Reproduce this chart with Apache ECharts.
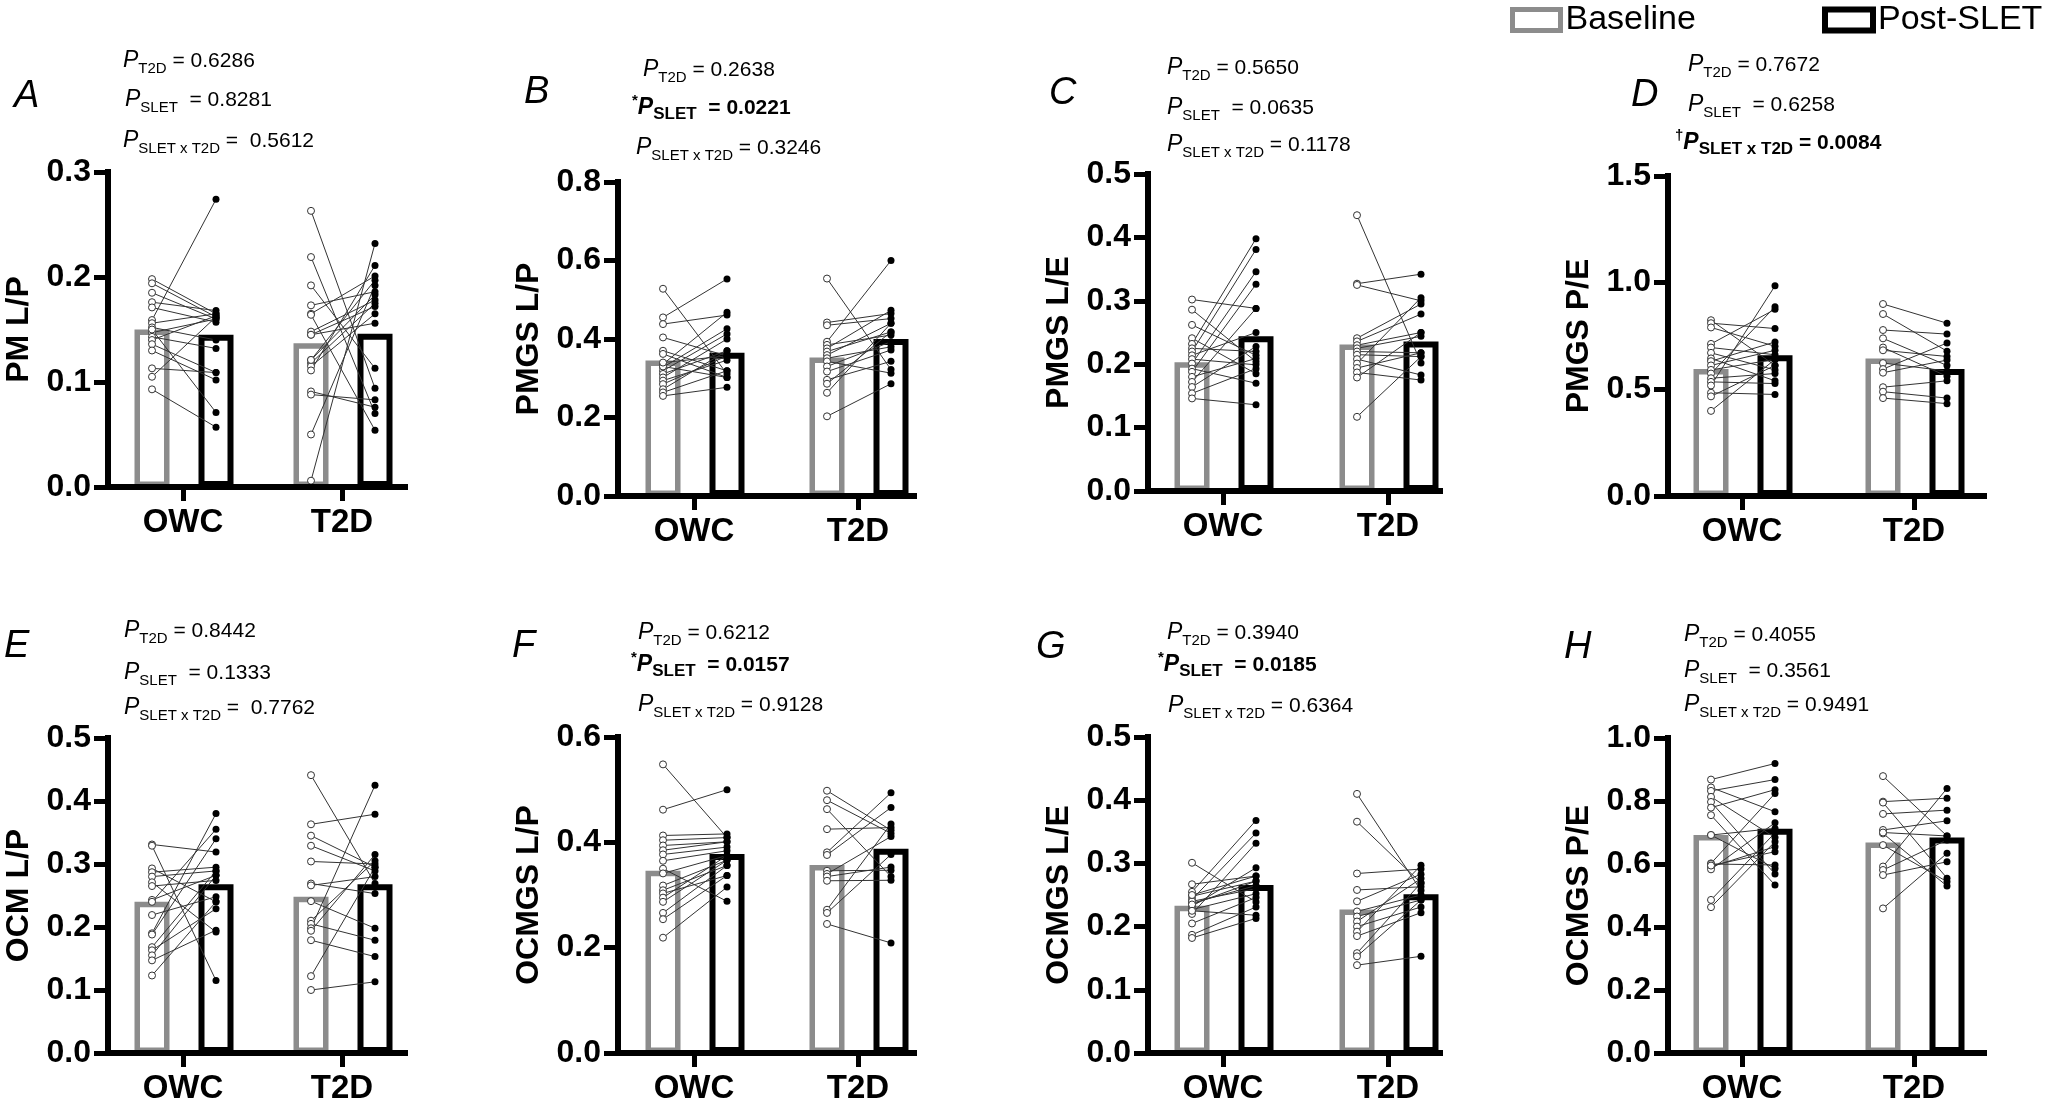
<!DOCTYPE html>
<html><head><meta charset="utf-8">
<script src="https://cdn.jsdelivr.net/npm/echarts@6/dist/echarts.min.js"></script>
<style>html,body{margin:0;padding:0;background:#fff}#chart{width:2047px;height:1105px}</style>
</head><body><div id="chart"></div>
<script>
// ---------------- DATA ----------------
const categories = ['OWC', 'T2D'];
const seriesNames = ['Baseline', 'Post-SLET'];
const panelLetters = ['A', 'B', 'C', 'D', 'E', 'F', 'G', 'H'];
const yAxisNames = ['PM L/P', 'PMGS L/P', 'PMGS L/E', 'PMGS P/E', 'OCM L/P', 'OCMGS L/P', 'OCMGS L/E', 'OCMGS P/E'];
const yAxisMax = [0.3, 0.8, 0.5, 1.5, 0.5, 0.6, 0.5, 1.0];
const yAxisStep = [0.1, 0.2, 0.1, 0.5, 0.1, 0.2, 0.1, 0.2];

const pT2D = ['0.6286', '0.2638', '0.5650', '0.7672', '0.8442', '0.6212', '0.3940', '0.4055'];
const pSLET = ['0.8281', '0.0221', '0.0635', '0.6258', '0.1333', '0.0157', '0.0185', '0.3561'];
const pInteraction = ['0.5612', '0.3246', '0.1178', '0.0084', '0.7762', '0.9128', '0.6364', '0.9491'];
const sigSLET = [false, true, false, false, false, true, true, false];
const sigInteraction = [false, false, false, true, false, false, false, false];

// bar means [OWC, T2D]
const meanBaseline_A = [0.150, 0.137], meanPost_A = [0.145, 0.146];
const meanBaseline_B = [0.345, 0.353], meanPost_B = [0.365, 0.400];
const meanBaseline_C = [0.203, 0.231], meanPost_C = [0.244, 0.236];
const meanBaseline_D = [0.595, 0.645], meanPost_D = [0.660, 0.595];
const meanBaseline_E = [0.240, 0.248], meanPost_E = [0.268, 0.268];
const meanBaseline_F = [0.346, 0.357], meanPost_F = [0.378, 0.388];
const meanBaseline_G = [0.233, 0.227], meanPost_G = [0.266, 0.251];
const meanBaseline_H = [0.692, 0.668], meanPost_H = [0.712, 0.684];

// individual paired values (baseline[i] -> post[i])
const A_OWC_base = [0.198,0.194,0.185,0.176,0.171,0.159,0.156,0.152,0.147,0.143,0.140,0.136,0.130,0.113,0.105,0.093,0.150];
const A_OWC_post = [0.165,0.162,0.160,0.168,0.157,0.274,0.165,0.140,0.160,0.132,0.163,0.109,0.102,0.109,0.162,0.057,0.071];
const A_T2D_base = [0.263,0.219,0.192,0.173,0.165,0.164,0.148,0.145,0.121,0.118,0.115,0.111,0.091,0.088,0.050,0.006,0.121,0.145];
const A_T2D_post = [0.094,0.070,0.113,0.186,0.201,0.054,0.178,0.156,0.197,0.175,0.165,0.211,0.076,0.083,0.192,0.232,0.183,0.172];

const B_OWC_base = [0.528,0.455,0.438,0.404,0.370,0.362,0.336,0.328,0.319,0.311,0.302,0.294,0.285,0.272,0.264,0.255,0.330,0.340];
const B_OWC_post = [0.311,0.553,0.461,0.357,0.319,0.302,0.468,0.426,0.413,0.370,0.400,0.346,0.357,0.370,0.319,0.277,0.302,0.357];
const B_T2D_base = [0.554,0.442,0.435,0.393,0.385,0.376,0.368,0.359,0.351,0.343,0.330,0.317,0.296,0.286,0.263,0.203];
const B_T2D_post = [0.322,0.465,0.452,0.600,0.410,0.473,0.418,0.440,0.380,0.313,0.393,0.372,0.343,0.418,0.440,0.286];

const C_OWC_base = [0.302,0.286,0.262,0.241,0.232,0.225,0.220,0.214,0.208,0.201,0.193,0.188,0.180,0.172,0.164,0.154,0.146];
const C_OWC_post = [0.288,0.204,0.214,0.185,0.398,0.220,0.381,0.250,0.199,0.346,0.170,0.326,0.209,0.288,0.228,0.193,0.136];
const C_T2D_base = [0.435,0.327,0.325,0.241,0.236,0.230,0.225,0.220,0.215,0.208,0.201,0.194,0.187,0.179,0.117];
const C_T2D_post = [0.202,0.342,0.300,0.295,0.279,0.250,0.244,0.218,0.212,0.183,0.305,0.218,0.175,0.250,0.212];

const D_OWC_base = [0.824,0.810,0.790,0.713,0.696,0.671,0.645,0.632,0.612,0.591,0.574,0.552,0.535,0.518,0.484,0.467,0.399];
const D_OWC_post = [0.612,0.785,0.702,0.875,0.662,0.591,0.540,0.722,0.683,0.640,0.887,0.574,0.527,0.985,0.476,0.612,0.640];
const D_T2D_base = [0.900,0.853,0.778,0.739,0.696,0.683,0.623,0.595,0.578,0.510,0.489,0.459];
const D_T2D_post = [0.810,0.679,0.759,0.612,0.561,0.654,0.586,0.717,0.637,0.540,0.459,0.433];

const E_OWC_base = [0.331,0.329,0.293,0.287,0.280,0.271,0.265,0.243,0.240,0.219,0.190,0.188,0.168,0.163,0.155,0.147,0.123];
const E_OWC_post = [0.319,0.115,0.240,0.295,0.289,0.192,0.274,0.282,0.355,0.248,0.380,0.340,0.289,0.229,0.282,0.195,0.240];
const E_T2D_base = [0.441,0.363,0.345,0.329,0.304,0.269,0.266,0.241,0.210,0.205,0.198,0.194,0.179,0.122,0.100];
const E_T2D_post = [0.269,0.379,0.295,0.289,0.300,0.253,0.280,0.198,0.305,0.179,0.425,0.315,0.153,0.295,0.113];

const F_OWC_base = [0.548,0.462,0.413,0.404,0.394,0.385,0.377,0.365,0.350,0.341,0.318,0.309,0.303,0.295,0.287,0.266,0.254,0.219];
const F_OWC_post = [0.409,0.500,0.416,0.409,0.401,0.401,0.391,0.384,0.288,0.375,0.366,0.356,0.337,0.375,0.366,0.356,0.337,0.315];
const F_T2D_base = [0.498,0.480,0.463,0.425,0.381,0.376,0.346,0.340,0.335,0.327,0.272,0.266,0.245];
const F_T2D_post = [0.423,0.417,0.335,0.428,0.494,0.466,0.347,0.411,0.353,0.328,0.435,0.377,0.209];

const G_OWC_base = [0.301,0.267,0.255,0.248,0.243,0.237,0.232,0.227,0.220,0.205,0.187,0.182,0.240,0.235,0.225,0.250];
const G_OWC_post = [0.239,0.280,0.368,0.272,0.348,0.265,0.293,0.252,0.332,0.246,0.231,0.213,0.260,0.272,0.218,0.280];
const G_T2D_base = [0.410,0.366,0.284,0.258,0.240,0.224,0.216,0.208,0.200,0.192,0.185,0.158,0.153,0.139];
const G_T2D_post = [0.257,0.269,0.291,0.263,0.283,0.250,0.242,0.276,0.231,0.297,0.222,0.269,0.242,0.153];

const H_OWC_base = [0.868,0.843,0.832,0.813,0.797,0.779,0.755,0.692,0.692,0.602,0.591,0.583,0.600,0.595,0.486,0.463];
const H_OWC_post = [0.919,0.766,0.868,0.684,0.568,0.836,0.533,0.586,0.713,0.824,0.655,0.731,0.597,0.639,0.699,0.671];
const H_T2D_base = [0.879,0.798,0.795,0.759,0.708,0.697,0.660,0.592,0.581,0.565,0.459,0.700];
const H_T2D_post = [0.689,0.809,0.555,0.771,0.737,0.530,0.544,0.840,0.676,0.607,0.634,0.689];

const panels = [
  {base: [A_OWC_base, A_T2D_base], post: [A_OWC_post, A_T2D_post], meanBase: meanBaseline_A, meanPost: meanPost_A},
  {base: [B_OWC_base, B_T2D_base], post: [B_OWC_post, B_T2D_post], meanBase: meanBaseline_B, meanPost: meanPost_B},
  {base: [C_OWC_base, C_T2D_base], post: [C_OWC_post, C_T2D_post], meanBase: meanBaseline_C, meanPost: meanPost_C},
  {base: [D_OWC_base, D_T2D_base], post: [D_OWC_post, D_T2D_post], meanBase: meanBaseline_D, meanPost: meanPost_D},
  {base: [E_OWC_base, E_T2D_base], post: [E_OWC_post, E_T2D_post], meanBase: meanBaseline_E, meanPost: meanPost_E},
  {base: [F_OWC_base, F_T2D_base], post: [F_OWC_post, F_T2D_post], meanBase: meanBaseline_F, meanPost: meanPost_F},
  {base: [G_OWC_base, G_T2D_base], post: [G_OWC_post, G_T2D_post], meanBase: meanBaseline_G, meanPost: meanPost_G},
  {base: [H_OWC_base, H_T2D_base], post: [H_OWC_post, H_T2D_post], meanBase: meanBaseline_H, meanPost: meanPost_H}
];

// ---------------- LAYOUT (pixels) ----------------
const COLS = [
  {x0: 108, owc: 75, unit: 159, width: 297},
  {x0: 618, owc: 76, unit: 164, width: 296},
  {x0: 1148, owc: 75, unit: 165, width: 292},
  {x0: 1668, owc: 74, unit: 172, width: 316}
];
const ROWS = [
  [{top: 172, bottom: 487}, {top: 182, bottom: 496}, {top: 174, bottom: 491}, {top: 176, bottom: 496}],
  [{top: 738, bottom: 1053}, {top: 737, bottom: 1053}, {top: 737, bottom: 1053}, {top: 738, bottom: 1053}]
];
const LETTER_POS = [[14, 96], [524, 92], [1049, 93], [1631, 95], [4, 646], [512, 646], [1036, 647], [1564, 647]];
const PTEXT_POS = [
  [[123, 68], [125, 107], [123, 148]],
  [[643, 77], [632, 115], [636, 155]],
  [[1167, 75], [1167, 115], [1167, 152]],
  [[1688, 72], [1688, 112], [1675, 150]],
  [[124, 638], [124, 680], [124, 715]],
  [[638, 640], [631, 672], [638, 712]],
  [[1167, 640], [1158, 672], [1168, 713]],
  [[1684, 642], [1684, 678], [1684, 712]]
];
const INTER_GAP = [2, 1, 1, 1, 2, 1, 1, 1]; // spaces after '=' on interaction line
const BASE_OFF = -31, POST_OFF = 33; // px offsets of bars from category tick
const FONT = 'Liberation Sans, Arial, Helvetica, sans-serif';
const GRAY = '#8c8c8c';

const RICH = {
  p: {fontSize: 23, fontStyle: 'italic', lineHeight: 30, fontFamily: FONT},
  s: {fontSize: 15, lineHeight: 15, verticalAlign: 'bottom', fontFamily: FONT},
  v: {fontSize: 21, lineHeight: 30, fontFamily: FONT},
  pB: {fontSize: 23, fontStyle: 'italic', fontWeight: 'bold', lineHeight: 30, fontFamily: FONT},
  sB: {fontSize: 17, fontWeight: 'bold', lineHeight: 16, verticalAlign: 'bottom', fontFamily: FONT},
  vB: {fontSize: 21, fontWeight: 'bold', lineHeight: 30, fontFamily: FONT},
  supB: {fontSize: 15, fontWeight: 'bold', lineHeight: 15, verticalAlign: 'top', fontFamily: FONT}
};

// ---------------- BUILD ----------------
const grids = [], xAxes = [], yAxes = [], series = [], graphics = [];

panels.forEach((p, i) => {
  const col = COLS[i % 4];
  const row = ROWS[Math.floor(i / 4)][i % 4];
  grids.push({left: col.x0, top: row.top, width: col.width, height: row.bottom - row.top});
  const xMin = 1 - col.owc / col.unit;
  const xMax = xMin + col.width / col.unit;
  const bx = (k, off) => (k + 1) + off / col.unit;

  xAxes.push({
    gridIndex: i, type: 'value', min: xMin, max: xMax, z: 4,
    axisLine: {show: true, onZero: false, lineStyle: {color: '#000', width: 6, cap: 'square'}},
    axisTick: {show: true, customValues: [1, 2], length: 14, lineStyle: {color: '#000', width: 5}},
    axisLabel: {customValues: [1, 2], formatter: v => categories[Math.round(v) - 1],
      fontSize: 33, fontWeight: 'bold', color: '#000', margin: 19, fontFamily: FONT},
    splitLine: {show: false}
  });
  yAxes.push({
    gridIndex: i, type: 'value', min: 0, max: yAxisMax[i], interval: yAxisStep[i], z: 4,
    name: yAxisNames[i], nameLocation: 'middle', nameGap: 73,
    nameTextStyle: {fontSize: 32, fontWeight: 'bold', color: '#000', fontFamily: FONT},
    axisLine: {show: true, onZero: false, lineStyle: {color: '#000', width: 6, cap: 'square'}},
    axisTick: {show: true, length: 14, lineStyle: {color: '#000', width: 5}},
    axisLabel: {formatter: v => v.toFixed(1), fontSize: 32, fontWeight: 'bold', color: '#000', margin: 17, fontFamily: FONT},
    splitLine: {show: false}
  });

  series.push({
    type: 'bar', name: seriesNames[0], xAxisIndex: i, yAxisIndex: i, barWidth: 35, barGap: '-100%', z: 1, silent: true,
    itemStyle: {color: 'rgba(255,255,255,0)', borderColor: GRAY, borderWidth: 5.5},
    data: p.meanBase.map((v, k) => [bx(k, BASE_OFF), v])
  });
  series.push({
    type: 'bar', name: seriesNames[1], xAxisIndex: i, yAxisIndex: i, barWidth: 35, barGap: '-100%', z: 1, silent: true,
    itemStyle: {color: 'rgba(255,255,255,0)', borderColor: '#000', borderWidth: 6},
    data: p.meanPost.map((v, k) => [bx(k, POST_OFF), v])
  });
  const segs = [], bPts = [], qPts = [];
  p.base.forEach((arr, k) => {
    arr.forEach((b, j) => {
      const q = p.post[k][j];
      segs.push({coords: [[bx(k, BASE_OFF), b], [bx(k, POST_OFF), q]]});
      bPts.push([bx(k, BASE_OFF), b]);
      qPts.push([bx(k, POST_OFF), q]);
    });
  });
  series.push({
    type: 'lines', coordinateSystem: 'cartesian2d', xAxisIndex: i, yAxisIndex: i, z: 2, silent: true,
    lineStyle: {color: '#333', width: 1, opacity: 1}, data: segs
  });
  series.push({
    type: 'scatter', xAxisIndex: i, yAxisIndex: i, z: 3, silent: true, symbol: 'circle', symbolSize: 7,
    itemStyle: {color: '#fff', borderColor: '#333', borderWidth: 1, opacity: 1}, data: bPts
  });
  series.push({
    type: 'scatter', xAxisIndex: i, yAxisIndex: i, z: 3, silent: true, symbol: 'circle', symbolSize: 7,
    itemStyle: {color: '#000', opacity: 1}, data: qPts
  });

  // panel letter
  graphics.push({type: 'text', x: LETTER_POS[i][0], y: LETTER_POS[i][1], silent: true,
    style: {text: panelLetters[i], fontSize: 38, fontStyle: 'italic', fontFamily: FONT, fill: '#000', verticalAlign: 'middle'}});

  // p-value lines
  const lines = [
    {sub: 'T2D', val: ' = ' + pT2D[i], bold: false, mark: ''},
    {sub: 'SLET', val: '  = ' + pSLET[i], bold: sigSLET[i], mark: sigSLET[i] ? '*' : ''},
    {sub: 'SLET x T2D', val: ' =' + ' '.repeat(INTER_GAP[i]) + pInteraction[i], bold: sigInteraction[i], mark: sigInteraction[i] ? '†' : ''}
  ];
  lines.forEach((ln, r) => {
    const b = ln.bold ? 'B' : '';
    let txt = '';
    if (ln.mark) txt += '{supB|' + ln.mark + '}';
    txt += '{p' + b + '|P}{s' + b + '|' + ln.sub + '}{v' + b + '|' + ln.val + '}';
    const pos = PTEXT_POS[i][r];
    graphics.push({type: 'text', x: pos[0], y: pos[1] - 7, silent: true,
      style: {text: txt, fontFamily: FONT, fill: '#000', align: 'left', verticalAlign: 'middle', rich: RICH}});
  });
});

const chart = echarts.init(document.getElementById('chart'), null, {renderer: 'canvas'});
chart.setOption({
  animation: false,
  backgroundColor: '#fff',
  textStyle: {fontFamily: FONT},
  legend: [
    {left: 1510, top: 3, padding: 0, icon: 'rect', itemWidth: 48, itemHeight: 21, selectedMode: false,
      textStyle: {fontSize: 34, color: '#000', fontFamily: FONT},
      data: [{name: seriesNames[0], itemStyle: {color: '#fff', borderColor: GRAY, borderWidth: 5}}]},
    {left: 1822, top: 3, padding: 0, icon: 'rect', itemWidth: 48, itemHeight: 21, selectedMode: false,
      textStyle: {fontSize: 34, color: '#000', fontFamily: FONT},
      data: [{name: seriesNames[1], itemStyle: {color: '#fff', borderColor: '#000', borderWidth: 6}}]}
  ],
  grid: grids,
  xAxis: xAxes,
  yAxis: yAxes,
  series: series,
  graphic: graphics
});
</script>
</body></html>
